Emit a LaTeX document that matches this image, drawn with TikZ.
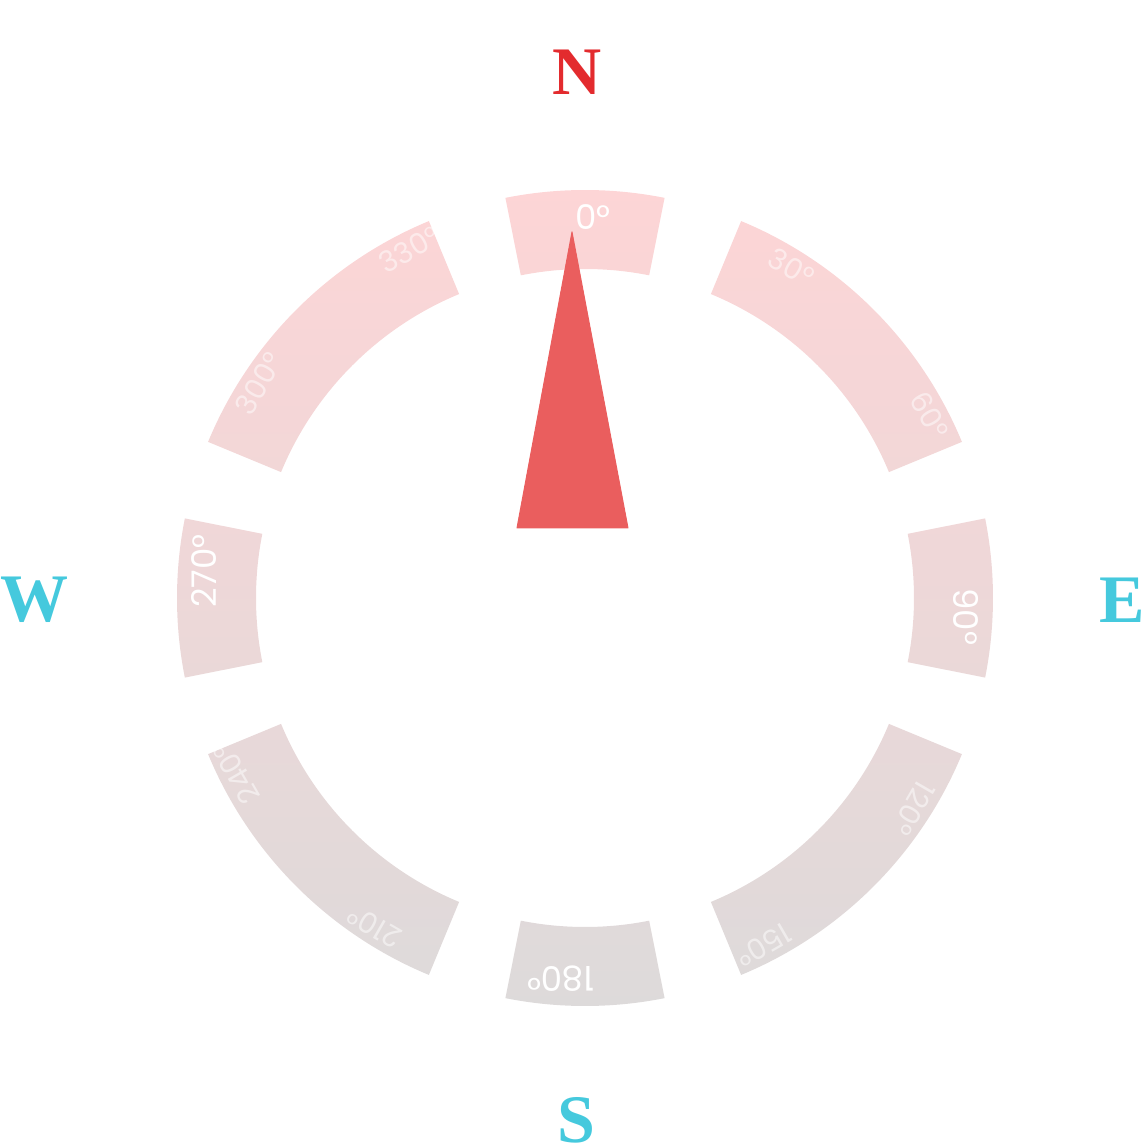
\documentclass[tikz,border=0pt]{standalone}
\usepackage{fontspec}
\usepackage{xcolor}
\usepackage{tikz}
\usetikzlibrary{calc}

\newfontfamily\degfont{Poppins}
\newfontfamily\dirfont{Liberation Serif}

\definecolor{ringtop}{RGB}{253,213,214}
\definecolor{ringbottom}{RGB}{221,218,218}
\definecolor{needlered}{RGB}{234,94,94}
\definecolor{northred}{RGB}{227,43,46}
\definecolor{dircyan}{RGB}{69,201,221}

\begin{document}
\begin{tikzpicture}[
    x=1pt, y=1pt,
    majordeg/.style={font=\degfont\fontsize{34}{34}\selectfont, text=white, anchor=west, inner sep=0pt},
    minordeg/.style={font=\degfont\fontsize{29}{29}\selectfont, text=white, text opacity=0.5, anchor=west, inner sep=0pt},
    dirletter/.style={font=\dirfont\bfseries\fontsize{68}{68}\selectfont, text=#1, inner sep=0pt},
]
\useasboundingbox (-585,-550) rectangle (560,598);

% Ring segments
\shade[top color=ringtop, bottom color=ringbottom]
  (78.75:408) arc[start angle=78.75, end angle=101.25, radius=408] -- (101.25:329) arc[start angle=101.25, end angle=78.75, radius=329] -- cycle
  (22.5:408) arc[start angle=22.5, end angle=67.5, radius=408] -- (67.5:329) arc[start angle=67.5, end angle=22.5, radius=329] -- cycle
  (-11.25:408) arc[start angle=-11.25, end angle=11.25, radius=408] -- (11.25:329) arc[start angle=11.25, end angle=-11.25, radius=329] -- cycle
  (-67.5:408) arc[start angle=-67.5, end angle=-22.5, radius=408] -- (-22.5:329) arc[start angle=-22.5, end angle=-67.5, radius=329] -- cycle
  (-101.25:408) arc[start angle=-101.25, end angle=-78.75, radius=408] -- (-78.75:329) arc[start angle=-78.75, end angle=-101.25, radius=329] -- cycle
  (-157.5:408) arc[start angle=-157.5, end angle=-112.5, radius=408] -- (-112.5:329) arc[start angle=-112.5, end angle=-157.5, radius=329] -- cycle
  (168.75:408) arc[start angle=168.75, end angle=191.25, radius=408] -- (191.25:329) arc[start angle=191.25, end angle=168.75, radius=329] -- cycle
  (112.5:408) arc[start angle=112.5, end angle=157.5, radius=408] -- (157.5:329) arc[start angle=157.5, end angle=112.5, radius=329] -- cycle;

% Degree labels
\node[majordeg] (d0) at (91.5:381) {0°};
\node[minordeg, rotate=-30] (d30) at (61.5:390) {30°};
\node[minordeg, rotate=-60] (d60) at (31.5:390) {60°};
\node[majordeg, rotate=-90] (d90) at (1.5:381) {90°};
\node[minordeg, rotate=-120] (d120) at (-28.5:390) {120°};
\node[minordeg, rotate=-150] (d150) at (-58.5:390) {150°};
\node[majordeg, rotate=-180] (d180) at (-88.5:381) {180°};
\node[minordeg, rotate=-210] (d210) at (-118.5:390) {210°};
\node[minordeg, rotate=-240] (d240) at (-148.5:390) {240°};
\node[majordeg, rotate=-270] (d270) at (-178.5:381) {270°};
\node[minordeg, rotate=-300] (d300) at (151.5:390) {300°};
\node[minordeg, rotate=-330] (d330) at (121.5:390) {330°};

% Needle
\filldraw[needlered, line width=1pt, line join=round] (-68,70) -- (-13,366) -- (43,70) -- cycle;

% Cardinal points
\node[dirletter=northred] (north) at (-7.5,525.5) {N};
\node[dirletter=dircyan] (east) at (537,-2) {E};
\node[dirletter=dircyan] (south) at (-9,-522) {S};
\node[dirletter=dircyan] (west) at (-550,-1.5) {W};

\end{tikzpicture}
\end{document}
